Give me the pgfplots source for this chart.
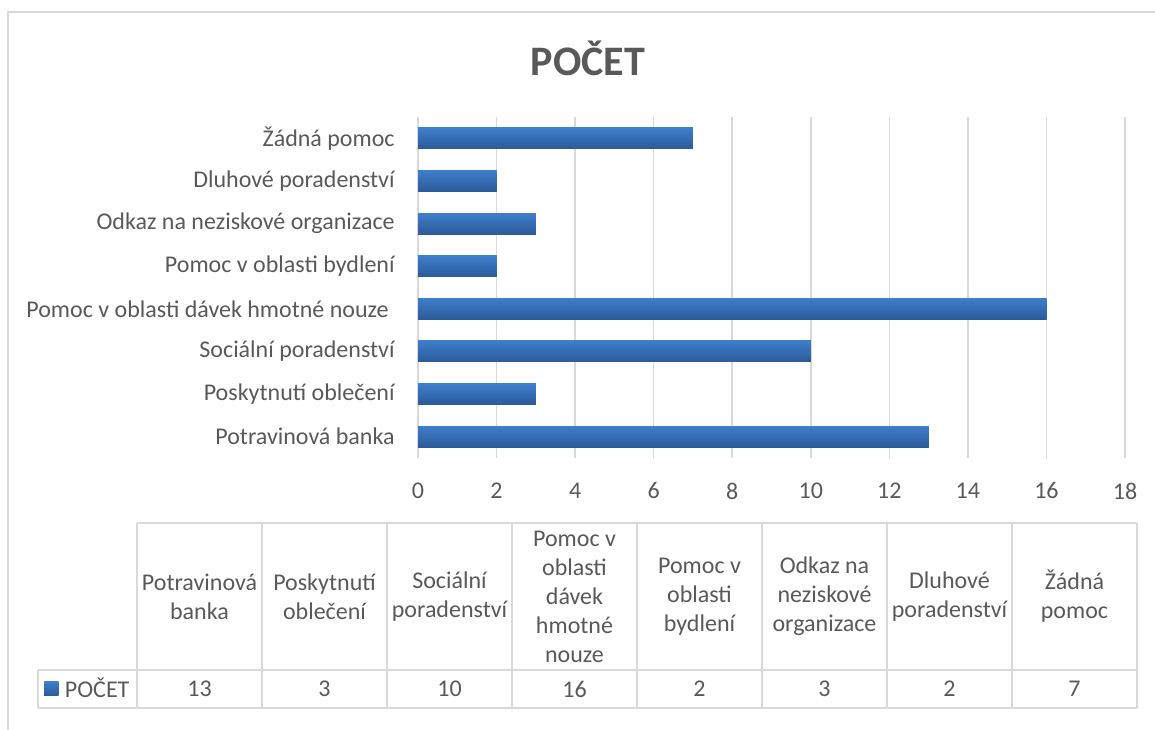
\documentclass[border=0pt]{standalone}
\usepackage{pgfplots}
\pgfplotsset{compat=1.18}
\usepackage{fontspec}
\setmainfont{Carlito}
\definecolor{txt}{HTML}{595959}
\definecolor{grd}{HTML}{D9D9D9}
\definecolor{bartop}{RGB}{62,126,204}
\definecolor{barbot}{RGB}{44,90,152}
\begin{document}
\begin{tikzpicture}
\useasboundingbox (0,0) rectangle (866.25pt,546.75pt);
\begin{scope}[x=0.75pt,y=-0.75pt,shift={(0pt,546.75pt)}]
  % outer chart border
  \draw[grd,line width=1.2pt] (8,740) -- (8,12) -- (1160,12);
  % title
  \node[txt,font=\fontsize{31.5}{36}\selectfont\bfseries] at (588,58) {POČET};
  % data table grid
  \draw[grd,line width=1.1pt] (137,523) -- (1137,523);
  \draw[grd,line width=1.1pt] (38,670) -- (1137,670);
  \draw[grd,line width=1.1pt] (38,708) -- (1137,708);
  \draw[grd,line width=1.1pt] (38,670) -- (38,708);
  \foreach \xx in {137,262,387,512,637,762,887,1012,1137}
    \draw[grd,line width=1.1pt] (\xx,523) -- (\xx,708);
  % header labels
  \begin{scope}[every node/.style={txt,align=center,font=\fontsize{18}{21.75}\selectfont}]
    \node at (199.5,596.5) {Potravinová\\banka};
    \node at (324.5,596.5) {Poskytnutí\\oblečení};
    \node at (449.5,596.5) {Sociální\\poradenství};
    \node at (574.5,596.5) {Pomoc v\\oblasti\\dávek\\hmotné\\nouze};
    \node at (699.5,596.5) {Pomoc v\\oblasti\\bydlení};
    \node at (824.5,596.5) {Odkaz na\\neziskové\\organizace};
    \node at (949.5,596.5) {Dluhové\\poradenství};
    \node at (1074.5,596.5) {Žádná\\pomoc};
    \node at (199.5,689) {13};
    \node at (324.5,689) {3};
    \node at (449.5,689) {10};
    \node at (574.5,689) {16};
    \node at (699.5,689) {2};
    \node at (824.5,689) {3};
    \node at (949.5,689) {2};
    \node at (1074.5,689) {7};
  \end{scope}
\end{scope}
\begin{axis}[
  at={(313.5pt,203.25pt)}, anchor=south west,
  scale only axis,
  width=530.25pt, height=255.75pt,
  xmin=0, xmax=18, ymin=-0.5, ymax=7.5,
  xtick={0,2,...,18},
  ytick={0,1,...,7},
  yticklabels={Potravinová banka,Poskytnutí oblečení,Sociální poradenství,{Pomoc v oblasti dávek hmotné nouze\kern4.5pt},Pomoc v oblasti bydlení,Odkaz na neziskové organizace,Dluhové poradenství,Žádná pomoc},
  xmajorgrids,
  major grid style={grd,line width=1.1pt},
  axis line style={draw=none},
  tick style={draw=none},
  /pgf/number format/assume math mode=true,
  ticklabel style={txt,font=\fontsize{18}{21.75}\selectfont},
  xticklabel style={yshift=-15pt},
  yticklabel style={xshift=-14pt},
  legend style={at={(-0.529,-0.677)}, anchor=west, draw=none, fill=none,
    font=\fontsize{18}{21.75}\selectfont, text=txt, inner sep=0pt,
    legend cell align=left},
  legend image code/.code={\fill[top color=bartop,bottom color=barbot] (0pt,-5.25pt) rectangle (10.5pt,5.25pt);},
  bars/.style={xbar, bar width=15.75pt, bar shift=0pt, draw=none, top color=bartop, bottom color=barbot,
    preaction={fill=black!18, xshift=1.5pt, yshift=-2pt}},
]
\addplot[bars] coordinates {(13,0)};
\addlegendentry{\hspace{3pt}POČET}
\addplot[bars,forget plot] coordinates {(3,1)};
\addplot[bars,forget plot] coordinates {(10,2)};
\addplot[bars,forget plot] coordinates {(16,3)};
\addplot[bars,forget plot] coordinates {(2,4)};
\addplot[bars,forget plot] coordinates {(3,5)};
\addplot[bars,forget plot] coordinates {(2,6)};
\addplot[bars,forget plot] coordinates {(7,7)};
\end{axis}
\end{tikzpicture}
\end{document}
